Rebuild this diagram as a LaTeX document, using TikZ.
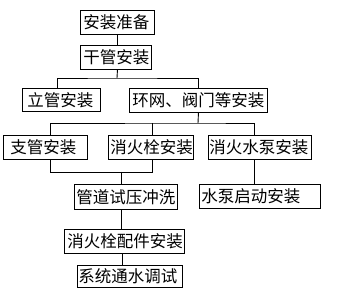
\documentclass[tikz,border=0pt]{standalone}
\usepackage{fontspec}
\newfontfamily\cjk{Noto Sans CJK SC}
\newcommand{\bt}[3]{\makebox[#1pt][l]{\hspace{#2pt}#3}}
\begin{document}
\begin{tikzpicture}[x=1pt,y=1pt,
  box/.style={draw, line width=0.9pt, anchor=north west, inner xsep=0pt, inner ysep=0pt,
     font=\cjk\fontsize{16.5}{17}\selectfont, minimum height=24pt},
  conn/.style={line width=0.9pt}]
\useasboundingbox (0,0) rectangle (352,296);
\node[box] (a) at (80,286) {\bt{74}{3}{安装准备}};
\node[box] (b) at (80,251) {\bt{71}{3}{干管安装}};
\node[box, minimum height=23pt] (c) at (22,208) {\bt{78}{5}{立管安装}};
\node[box] (d) at (129,208) {\bt{138}{3}{环网、阀门等安装}};
\node[box] (e) at (3,161) {\bt{84}{7}{支管安装}};
\node[box] (f) at (108,161) {\bt{85}{2}{消火栓安装}};
\node[box] (g) at (208,161) {\bt{103}{1}{消火水泵安装}};
\node[box, minimum height=25pt] (h) at (74,112) {\bt{103}{2}{管道试压冲洗}};
\node[box] (i) at (199,112) {\bt{121}{2}{水泵启动安装}};
\node[box] (j) at (64,67) {\bt{120}{3}{消火栓配件安装}};
\node[box, minimum height=22pt] (k) at (77,31) {\bt{105}{1}{系统通水调试}};
% connectors
\draw[conn] (a.south) -- (a.south |- b.north);
\coordinate (j1) at (117,218);
\draw[conn] (a.south |- b.south) -- (j1);
\draw[conn] ([xshift=-4pt]c.north) |- (j1) -| (d.north);
\coordinate (j2) at (198,173);
\draw[conn] (d.south) -- (j2);
\draw[conn] ([xshift=5pt]e.north) |- (j2) -| ([xshift=-5.5pt]g.north);
\draw[conn] ([xshift=1.5pt]f.north) -- ([xshift=1.5pt]f.north |- j2);
\coordinate (j3) at (121,124);
\draw[conn] ([xshift=5pt]e.south) |- (j3);
\draw[conn] ([xshift=1.5pt]f.south) |- (j3);
\draw[conn] (j3) -- (j3 |- h.north);
\draw[conn] ([xshift=-5.5pt]g.south) -- ([xshift=-5.5pt]g.south |- i.north);
\draw[conn] (j3 |- h.south) -- (j3 |- j.north);
\draw[conn] ([xshift=-2pt]j.south) -- ([xshift=-2pt]j.south |- k.north);
\end{tikzpicture}
\end{document}
